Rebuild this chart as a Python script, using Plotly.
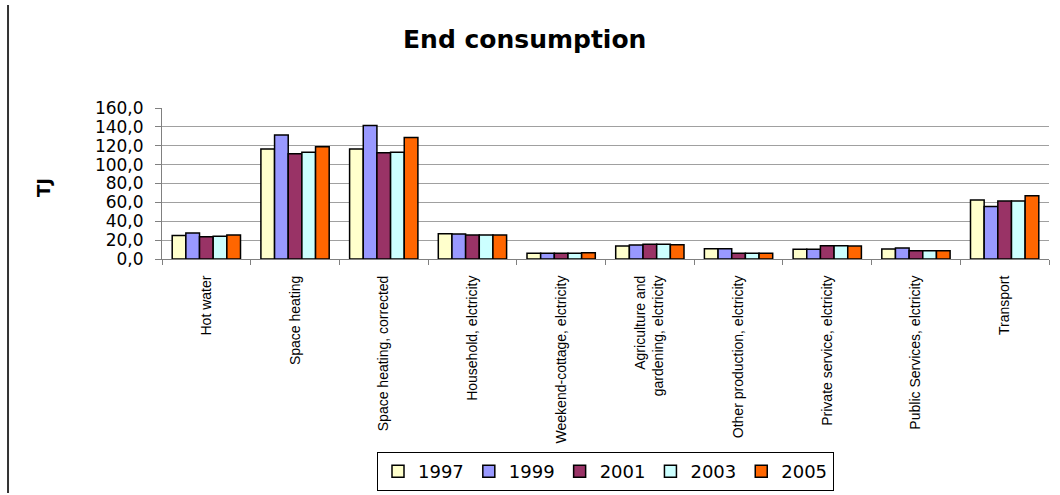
import plotly.graph_objects as go

categories = [
    "Hot water",
    "Space heating",
    "Space heating, corrected",
    "Household, elctricity",
    "Weekend-cottage, elctricity",
    "Agriculture and<br>gardening, elctricity",
    "Other production, elctricity",
    "Private service, elctricity",
    "Public Services, elctricity",
    "Transport",
]

years = ["1997", "1999", "2001", "2003", "2005"]

v1997 = [25.0, 116.5, 116.5, 26.8, 6.0, 13.7, 10.9, 10.2, 10.6, 62.5]
v1999 = [27.5, 131.3, 141.5, 26.5, 6.0, 14.8, 10.9, 10.2, 11.6, 55.7]
v2001 = [23.6, 111.5, 112.6, 25.4, 6.0, 15.5, 6.0, 14.1, 8.8, 61.4]
v2003 = [24.0, 113.0, 113.0, 25.4, 6.0, 15.5, 6.0, 14.1, 8.8, 61.4]
v2005 = [25.4, 119.0, 128.8, 25.4, 6.5, 15.0, 6.2, 13.7, 8.8, 67.0]

series = [v1997, v1999, v2001, v2003, v2005]
colors = ["#FFFFCC", "#9999FF", "#993366", "#CCFFFF", "#FF6600"]

y_ticks = [0, 20, 40, 60, 80, 100, 120, 140, 160]

fig = go.Figure()
for name, vals, col in zip(years, series, colors):
    fig.add_trace(go.Bar(
        x=categories, y=vals, name=name,
        marker=dict(color=col, line=dict(color="#000000", width=1.5)),
    ))

wide = "DejaVu Sans, Verdana, sans-serif"
arial = "Liberation Sans, Arial, sans-serif"

fig.update_layout(
    width=1060, height=495,
    margin=dict(l=162, r=11, t=108, b=236, autoexpand=False),
    paper_bgcolor="white", plot_bgcolor="white",
    barmode="group", bargap=0.23, bargroupgap=0,
    separators=", ",
    font=dict(family=arial, color="#000000"),
    title=dict(text="<b>End consumption</b>", x=0.495, xanchor="center",
               xref="container", yref="container",
               y=0.92, yanchor="middle",
               font=dict(size=25, family=wide, color="#000000")),
    xaxis=dict(
        tickangle=-90, tickfont=dict(size=14, family=arial), tickson="boundaries",
        ticks="outside", ticklen=5, tickcolor="#808080",
        showline=True, linecolor="#808080", linewidth=1,
        showgrid=False, automargin=False, ticklabelstandoff=10,
    ),
    yaxis=dict(
        range=[0, 160], tickvals=y_ticks, tickformat=".1f",
        tickfont=dict(size=17, family=wide),
        ticks="outside", ticklen=6, tickcolor="#808080",
        showline=True, linecolor="#808080", linewidth=1,
        showgrid=True, gridcolor="#a0a0a0", gridwidth=1,
        zeroline=False, automargin=False, ticklabelstandoff=8,
    ),
    legend=dict(
        orientation="h", x=0.5, xanchor="center", y=-1.278, yanchor="top",
        bordercolor="#000000", borderwidth=1, bgcolor="white",
        font=dict(size=18, family=wide), traceorder="normal",
    ),
    annotations=[dict(
        text="<b>TJ</b>", x=-0.1336, y=0.473, xref="paper", yref="paper",
        textangle=-90, showarrow=False, font=dict(size=18, family=wide),
        xanchor="center", yanchor="middle",
    )],
    shapes=[dict(
        type="line", xref="paper", yref="paper",
        x0=-0.1736, x1=-0.1736, y0=1.682, y1=-1.55,
        line=dict(color="#333333", width=2),
    )],
)

fig.write_html("out.html")
